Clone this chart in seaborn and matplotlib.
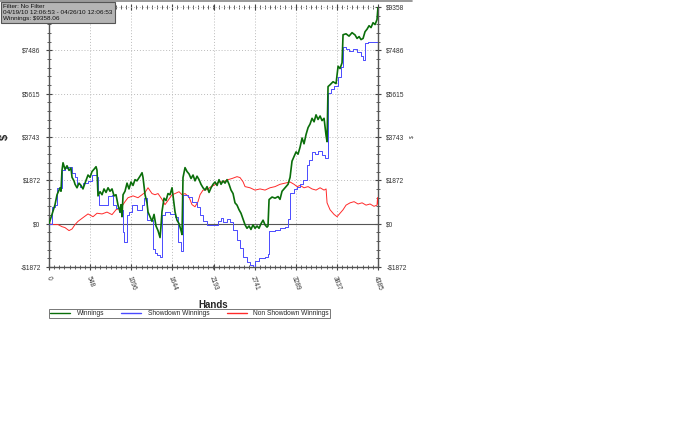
import numpy as np
import pandas as pd
import matplotlib.pyplot as plt
from matplotlib.lines import Line2D
from matplotlib.ticker import FixedLocator, AutoMinorLocator, FuncFormatter
import seaborn as sns

sns.set_style("white")
plt.rcParams['font.family'] = ['Liberation Sans', 'DejaVu Sans']

# Winnings (green)
win_hands = [0, 40, 80, 107, 147, 160, 173, 187, 213, 240, 267, 293, 307, 333, 347, 373, 400, 427,
             453, 480, 520, 547, 573, 600, 627, 640, 653, 680, 707, 733, 760, 787, 813, 840, 867,
             893, 920, 947, 960, 973, 987, 1013, 1040, 1066, 1093, 1120, 1146, 1173, 1213, 1240,
             1253, 1280, 1306, 1320, 1346, 1373, 1400, 1426, 1453, 1480, 1493, 1506, 1533, 1560,
             1586, 1613, 1640, 1653, 1680, 1706, 1733, 1760, 1773, 1786, 1813, 1840, 1866, 1893,
             1920, 1946, 1973, 2000, 2026, 2053, 2080, 2106, 2133, 2160, 2186, 2213, 2240, 2266,
             2293, 2320, 2346, 2373, 2400, 2426, 2453, 2479, 2506, 2533, 2559, 2586, 2613, 2639,
             2666, 2692, 2719, 2746, 2773, 2799, 2826, 2853, 2879, 2906, 2919, 2933, 2973, 3013,
             3053, 3079, 3106, 3146, 3186, 3213, 3239, 3266, 3293, 3319, 3346, 3373, 3399, 3426,
             3453, 3479, 3506, 3533, 3559, 3586, 3613, 3639, 3666, 3693, 3706, 3719, 3746, 3786,
             3826, 3853, 3879, 3906, 3919, 3959, 3999, 4039, 4079, 4106, 4133, 4159, 4186, 4212,
             4239, 4266, 4292, 4319, 4346, 4372, 4385]
win_usd = [0, 400, 820, 1250, 1550, 1400, 2300, 2630, 2350, 2500, 2300, 2400, 2000, 1850, 1700, 1550,
           1750, 1650, 1500, 1750, 2100, 2000, 2250, 2350, 2460, 2300, 1200, 1380, 1250, 1500, 1350,
           1550, 1400, 1500, 1200, 1250, 800, 500, 820, 300, 1250, 1400, 1750, 1500, 1800, 1650, 1900,
           1850, 2050, 2200, 2000, 1250, 900, 500, 300, 100, 400, -100, -300, -600, -100, 520, 1100,
           1000, 1300, 1250, 1550, 1200, 500, 150, 0, -300, -470, 1990, 2420, 2250, 2150, 1950, 2100,
           1850, 2050, 1900, 1700, 1550, 1450, 1600, 1350, 1550, 1700, 1800, 1650, 1900, 1700, 1850,
           1750, 1900, 1700, 1450, 1300, 900, 800, 600, 450, 200, -50, -200, -100, -250, -50, -200,
           -100, -200, 0, 150, -50, -150, -100, 1040, 1150, 1100, 1170, 1050, 1400, 1550, 1700, 2000,
           2700, 2900, 3100, 3000, 3300, 3700, 3450, 3850, 4150, 4300, 4550, 4400, 4700, 4500, 4650,
           4450, 4550, 3800, 3540, 5920, 6000, 6130, 6050, 6800, 6700, 6950, 8160, 8200, 8100, 8250,
           8150, 8000, 8080, 7950, 8000, 8290, 8400, 8550, 8470, 8680, 8600, 8820, 9358]

# Showdown winnings (blue)
sd_hands = [0, 40, 80, 107, 173, 213, 253, 307, 347, 373, 413, 453, 520, 573, 640, 653, 667, 733,
            787, 840, 853, 893, 933, 973, 987, 1000, 1040, 1066, 1106, 1173, 1240, 1266, 1306, 1360,
            1386, 1413, 1440, 1480, 1506, 1546, 1613, 1680, 1720, 1760, 1786, 1853, 1906, 1973, 2013,
            2053, 2106, 2186, 2253, 2293, 2320, 2373, 2413, 2453, 2506, 2546, 2586, 2639, 2679, 2719,
            2746, 2799, 2879, 2919, 2933, 3013, 3079, 3146, 3186, 3213, 3266, 3306, 3346, 3386, 3439,
            3466, 3506, 3546, 3586, 3639, 3679, 3719, 3759, 3799, 3853, 3893, 3919, 3959, 3999, 4053,
            4106, 4159, 4186, 4212, 4252, 4372, 4379]
sd_usd = [0, 700, 800, 1550, 2300, 2400, 2460, 2200, 2000, 1700, 1600, 1750, 1850, 2100, 2030, 1250,
          820, 820, 1200, 1250, 820, 690, 500, 600, -340, -780, 390, 520, 820, 600, 820, 1120, 170, 170,
          -1100, -1250, -1340, -1430, 390, 500, 400, 300, -800, -1200, 1250, 1150, 950, 700, 390, 100,
          -40, -40, 100, 250, 90, 200, 60, -260, -690, -1050, -1430, -1640, -1770, -1860, -1600, -1500,
          -1430, -1300, -300, -260, -180, -130, 200, 1340, 1500, 1600, 1700, 1900, 2550, 2760, 3100,
          3000, 3150, 2950, 2850, 5660, 5800, 5950, 6350, 6780, 7650, 7550, 7450, 7550, 7400, 7250,
          7080, 7820, 7860, 7860, 8470]

# Non showdown winnings (red)
nsd_hands = [0, 53, 120, 173, 213, 267, 307, 347, 387, 453, 520, 587, 640, 707, 773, 840, 893, 960,
             1013, 1053, 1120, 1186, 1240, 1280, 1320, 1373, 1413, 1453, 1506, 1546, 1586, 1640,
             1680, 1733, 1773, 1813, 1866, 1906, 1946, 1986, 2013, 2053, 2106, 2160, 2213, 2266,
             2320, 2386, 2439, 2506, 2546, 2586, 2613, 2679, 2746, 2813, 2879, 2946, 3013, 3079,
             3146, 3213, 3266, 3306, 3346, 3399, 3453, 3506, 3559, 3613, 3666, 3693, 3706, 3746,
             3799, 3839, 3879, 3919, 3959, 4013, 4066, 4119, 4173, 4226, 4279, 4332, 4372, 4379, 4385]
nsd_usd = [0, -40, -40, -130, -170, -300, -230, -40, 100, 260, 420, 300, 450, 420, 500, 390, 600, 690,
           950, 1120, 1200, 1120, 1250, 1350, 1550, 1300, 1250, 1300, 1050, 820, 1000, 1250, 1300, 1380,
           1250, 1300, 1150, 820, 730, 950, 1250, 1450, 1470, 1600, 1680, 1810, 1800, 1900, 1950, 2030,
           1990, 1810, 1600, 1550, 1450, 1500, 1450, 1550, 1600, 1700, 1750, 1800, 1700, 1600, 1650,
           1550, 1600, 1500, 1450, 1550, 1450, 1500, 900, 600, 400, 300, 450, 600, 800, 900, 950, 850,
           900, 800, 850, 750, 800, 1120, 850]

y_ticks = [-1872, 0, 1872, 3743, 5615, 7486, 9358]
x_ticks = [0, 548, 1096, 1644, 2193, 2741, 3289, 3837, 4385]

win = pd.DataFrame({"hands": win_hands, "usd": win_usd})
sd = pd.DataFrame({"hands": sd_hands, "usd": sd_usd})
nsd = pd.DataFrame({"hands": nsd_hands, "usd": nsd_usd})

fig = plt.figure(figsize=(7, 4.38), dpi=100)
ax = fig.add_axes([49 / 700, 1 - 267 / 438, 329 / 700, 260 / 438])

ax.axhline(0, color="#555555", lw=0.8, zorder=1)
sns.lineplot(data=nsd, x="hands", y="usd", ax=ax, color="#ff2a2a", lw=0.7,
             sort=False, estimator=None, zorder=3)
sns.lineplot(data=sd, x="hands", y="usd", ax=ax, color="#4a4aff", lw=0.7,
             sort=False, estimator=None, drawstyle="steps-post", zorder=4)
sns.lineplot(data=win, x="hands", y="usd", ax=ax, color="#0a6e0a", lw=1.2,
             sort=False, estimator=None, zorder=5)

ax.set_xlim(0, 4385)
ax.set_ylim(-1872, 9358)

def money(v, pos):
    v = int(round(v))
    return f"-${abs(v)}" if v < 0 else f"${v}"

ax.yaxis.set_major_locator(FixedLocator(y_ticks))
ax.yaxis.set_major_formatter(FuncFormatter(money))
ax.yaxis.set_minor_locator(AutoMinorLocator(5))
ax.xaxis.set_major_locator(FixedLocator(x_ticks))
ax.xaxis.set_minor_locator(AutoMinorLocator(8))
ax.tick_params(axis="y", which="both", left=True, right=True, labelright=True,
               direction="inout", colors="#444444", labelcolor="#333333", labelsize=4.8)
ax.tick_params(axis="both", which="major", length=5, width=0.8)
ax.tick_params(axis="both", which="minor", length=3, width=0.6)
ax.tick_params(axis="x", which="both", bottom=True, top=True, direction="inout",
               colors="#444444", labelcolor="#333333", labelsize=4.8)
for lbl in ax.get_xticklabels():
    lbl.set_rotation(-70)
    lbl.set_ha("center")
    lbl.set_va("top")

ax.grid(True, which="major", color="#bbbbbb", linestyle=(0, (1, 2)), lw=0.7)
for s in ["left", "right", "bottom"]:
    ax.spines[s].set_color("#555555")
    ax.spines[s].set_linewidth(1.0)
ax.spines["top"].set_visible(False)

ax.set_xlabel("Hands", fontsize=7, fontweight="bold", labelpad=6)
ax.set_ylabel("$", fontsize=8, fontweight="bold")
ax.yaxis.set_label_coords(-0.12, 0.5)
fig.text(412 / 700, 1 - 137 / 438, "$", fontsize=3.5, rotation=90, ha="center", va="center")

handles = [Line2D([], [], color="#0a6e0a", lw=1.0),
           Line2D([], [], color="#4a4aff", lw=1.0),
           Line2D([], [], color="#ff2a2a", lw=1.0)]
leg = fig.legend(handles, ["Winnings", "Showdown Winnings", "Non Showdown Winnings"],
                 loc="lower left", bbox_to_anchor=(49 / 700, 1 - 318 / 438, 281 / 700, 9 / 438),
                 ncol=3, mode="expand", fontsize=4.8, frameon=True, fancybox=False,
                 handlelength=3, handletextpad=1.0, borderpad=0.15, borderaxespad=0)
leg.get_frame().set_edgecolor("#555555")
leg.get_frame().set_linewidth(0.7)

# info box
fig.text(3 / 700, 1 - 4 / 438,
         "Filter: No Filter\n04/19/10 12:06:53 - 04/26/10 12:06:53\nWinnings: $9358.06",
         fontsize=4.6, va="top", ha="left", linespacing=1.25, color="#111111",
         bbox=dict(boxstyle="square,pad=0.35", facecolor="#b4b4b4", edgecolor="#555555", lw=0.8))
fig.add_artist(Line2D([0, 412 / 700], [0.998, 0.998], color="#888888", lw=1.2))

fig.savefig("out.png", dpi=100)
